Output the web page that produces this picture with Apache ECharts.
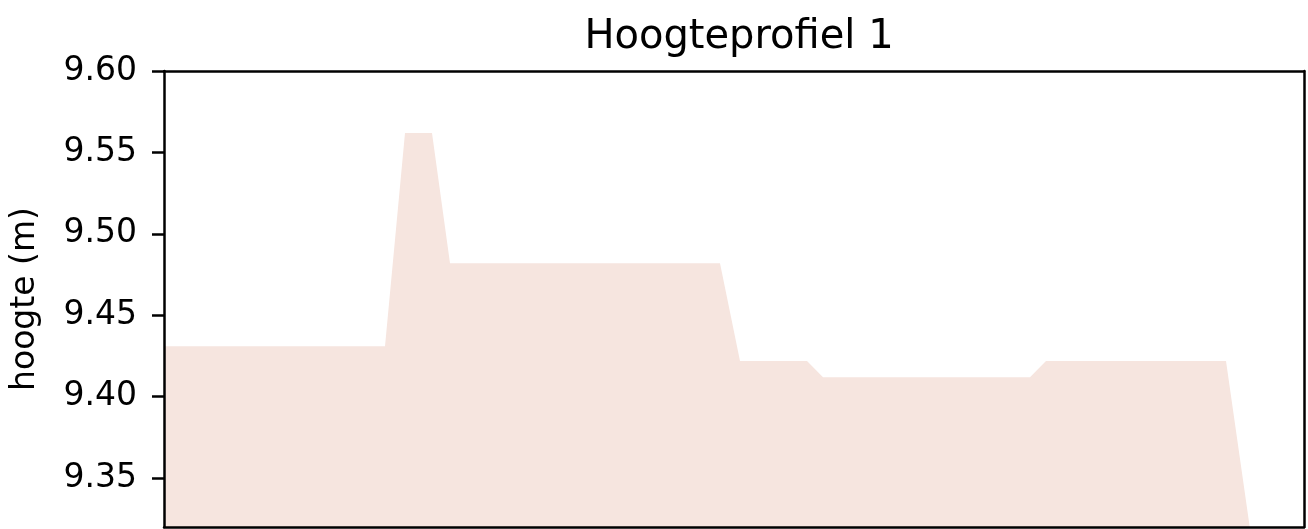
<!DOCTYPE html>
<html>
<head>
<meta charset="utf-8">
<script src="https://cdn.jsdelivr.net/npm/echarts@6/dist/echarts.min.js"></script>
<style>
  html, body { margin: 0; padding: 0; background: #fff; }
  #main { width: 1308px; height: 529px; }
</style>
</head>
<body>
<div id="main"></div>
<script>
// afstand langs het profiel (m) en hoogte (m)
const afstand = [0, 11.05, 12.05, 13.4, 14.3, 27.8, 28.8, 32.15, 32.95, 43.3, 44.1, 53.1, 55.1, 57];
const hoogte = [9.431, 9.431, 9.562, 9.562, 9.482, 9.482, 9.422, 9.422, 9.412, 9.412, 9.422, 9.422, 9.25, 9.25];
const yTicks = [9.35, 9.40, 9.45, 9.50, 9.55, 9.60];

const punten = afstand.map((x, i) => [x, hoogte[i]]);

const myChart = echarts.init(document.getElementById('main'), null, { renderer: 'canvas' });

const option = {
  animation: false,
  backgroundColor: '#fff',
  textStyle: { fontFamily: 'DejaVu Sans' },
  title: {
    text: 'Hoogteprofiel 1',
    left: 734,
    top: 13,
    textAlign: 'center',
    textStyle: { fontFamily: 'DejaVu Sans', fontSize: 40, fontWeight: 'normal', color: '#000' }
  },
  grid: {
    left: 164, right: 4, top: 71, bottom: 2,
    show: false
  },
  xAxis: [
    {
      type: 'value',
      position: 'bottom',
      min: 0,
      max: 57,
      z: 5,
      axisLine: { show: true, onZero: false, lineStyle: { color: '#000', width: 2.5 } },
      axisTick: { show: false },
      axisLabel: { show: false },
      splitLine: { show: false }
    },
    {
      type: 'value',
      position: 'top',
      min: 0,
      max: 57,
      z: 5,
      axisLine: { show: true, onZero: false, lineStyle: { color: '#000', width: 2.5 } },
      axisTick: { show: false },
      axisLabel: { show: false },
      splitLine: { show: false }
    }
  ],
  yAxis: [
    {
      type: 'value',
      position: 'left',
      min: 9.32,
      max: 9.60,
      z: 5,
      name: 'hoogte (m)',
      nameLocation: 'middle',
      nameGap: 122,
      nameTextStyle: { fontFamily: 'DejaVu Sans', fontSize: 33, color: '#000' },
      axisLine: { show: true, onZero: false, lineStyle: { color: '#000', width: 2.5 } },
      axisTick: { show: true, length: 12, customValues: yTicks, lineStyle: { color: '#000', width: 2.5 } },
      axisLabel: {
        customValues: yTicks,
        margin: 27,
        fontFamily: 'DejaVu Sans',
        fontSize: 33,
        color: '#000',
        formatter: v => v.toFixed(2)
      },
      splitLine: { show: false }
    },
    {
      type: 'value',
      position: 'right',
      min: 9.32,
      max: 9.60,
      z: 5,
      axisLine: { show: true, onZero: false, lineStyle: { color: '#000', width: 2.5 } },
      axisTick: { show: false },
      axisLabel: { show: false },
      splitLine: { show: false }
    }
  ],
  series: [
    {
      type: 'line',
      data: punten,
      xAxisIndex: 0,
      yAxisIndex: 0,
      showSymbol: false,
      clip: true,
      lineStyle: { width: 0 },
      areaStyle: { origin: 'start', color: '#f6e5df', opacity: 1 }
    }
  ]
};
myChart.setOption(option);
</script>
</body>
</html>
